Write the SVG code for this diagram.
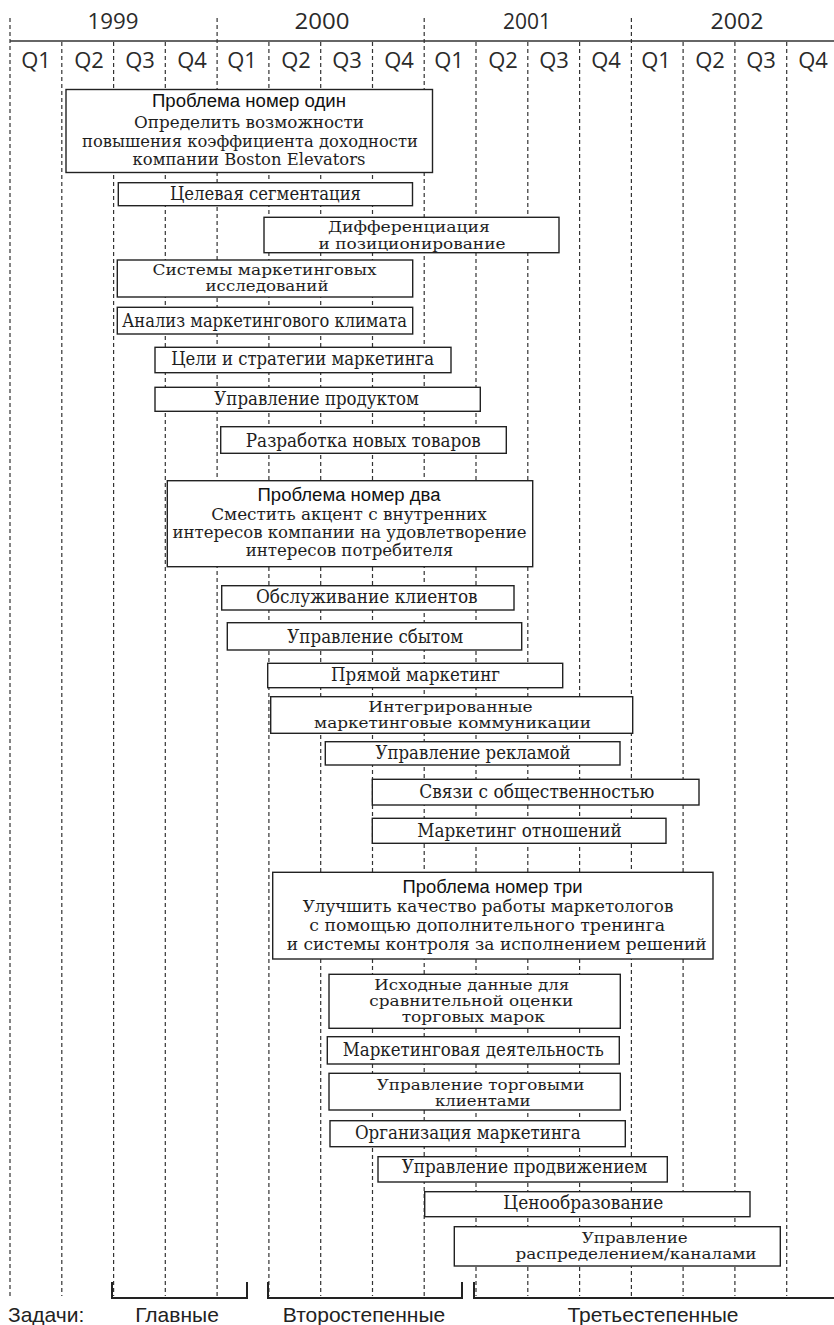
<svg xmlns="http://www.w3.org/2000/svg" width="834" height="1325" viewBox="0 0 834 1325">
<style>
.bg{fill:#fff}
.grid{stroke:#333;stroke-width:1.2;stroke-dasharray:4 3;fill:none}
.axis{stroke:#333;stroke-width:1.5;fill:none}
.hdr{font-family:"Open Sans","DejaVu Sans",sans-serif;font-size:22px;fill:#2a2a2a;text-anchor:middle}
.box{fill:#fff;stroke:#222;stroke-width:1.4}
.t{font-family:"DejaVu Serif","Liberation Serif",serif;font-size:18px;fill:#1e1e1e;text-anchor:middle}
.t2{font-family:"DejaVu Serif","Liberation Serif",serif;font-size:15.5px;fill:#1e1e1e;text-anchor:middle}
.t3{font-family:"DejaVu Serif","Liberation Serif",serif;font-size:17px;fill:#1e1e1e;text-anchor:middle}
.h{font-family:"Liberation Sans",Arial,sans-serif;font-size:18px;fill:#111;text-anchor:middle}
.br{stroke:#222;stroke-width:2;fill:none}
.lbl{font-family:"Liberation Sans",Arial,sans-serif;font-size:21px;fill:#222}
</style>
<rect class="bg" x="0" y="0" width="834" height="1325"/>
<g id="timeline">
<line class="axis" x1="10" y1="41" x2="834" y2="41"/>
<g class="hdr">
<text x="113" y="29" textLength="51" lengthAdjust="spacingAndGlyphs">1999</text>
<text x="322" y="29" textLength="55" lengthAdjust="spacingAndGlyphs">2000</text>
<text x="527" y="29" textLength="48" lengthAdjust="spacingAndGlyphs">2001</text>
<text x="737" y="29" textLength="53" lengthAdjust="spacingAndGlyphs">2002</text>
<text x="36" y="68">Q1</text>
<text x="89" y="68">Q2</text>
<text x="140" y="68">Q3</text>
<text x="192" y="68">Q4</text>
<text x="242" y="68">Q1</text>
<text x="296" y="68">Q2</text>
<text x="347" y="68">Q3</text>
<text x="399" y="68">Q4</text>
<text x="449" y="68">Q1</text>
<text x="503" y="68">Q2</text>
<text x="554" y="68">Q3</text>
<text x="606" y="68">Q4</text>
<text x="656" y="68">Q1</text>
<text x="710" y="68">Q2</text>
<text x="761" y="68">Q3</text>
<text x="813" y="68">Q4</text>
</g>
</g>
<g id="connectors">
<line class="grid" x1="10" y1="18" x2="10" y2="1296"/>
<line class="grid" x1="61.8" y1="42" x2="61.8" y2="1296"/>
<line class="grid" x1="113.6" y1="42" x2="113.6" y2="1296"/>
<line class="grid" x1="165.3" y1="42" x2="165.3" y2="1296"/>
<line class="grid" x1="217.1" y1="18" x2="217.1" y2="1296"/>
<line class="grid" x1="268.9" y1="42" x2="268.9" y2="1296"/>
<line class="grid" x1="320.7" y1="42" x2="320.7" y2="1296"/>
<line class="grid" x1="372.5" y1="42" x2="372.5" y2="1296"/>
<line class="grid" x1="424.2" y1="18" x2="424.2" y2="1296"/>
<line class="grid" x1="476" y1="42" x2="476" y2="1296"/>
<line class="grid" x1="527.8" y1="42" x2="527.8" y2="1296"/>
<line class="grid" x1="579.6" y1="42" x2="579.6" y2="1296"/>
<line class="grid" x1="631.4" y1="18" x2="631.4" y2="1296"/>
<line class="grid" x1="683.1" y1="42" x2="683.1" y2="1296"/>
<line class="grid" x1="734.9" y1="42" x2="734.9" y2="1296"/>
<line class="grid" x1="786.7" y1="42" x2="786.7" y2="1296"/>
</g>
<g id="p1">
<rect class="box" x="66" y="89.5" width="366.5" height="83"/>
<text class="h" x="249" y="106.7" textLength="194" lengthAdjust="spacingAndGlyphs">Проблема номер один</text>
<text class="t3" x="249" y="128.3" textLength="230" lengthAdjust="spacingAndGlyphs">Определить возможности</text>
<text class="t3" x="250" y="146.7" textLength="336" lengthAdjust="spacingAndGlyphs">повышения коэффициента доходности</text>
<text class="t3" x="249" y="165" textLength="233" lengthAdjust="spacingAndGlyphs">компании Boston Elevators</text>
</g>
<g id="n1">
<rect class="box" x="118.3" y="182.7" width="294.2" height="23"/>
<text class="t" x="265.5" y="200" textLength="191" lengthAdjust="spacingAndGlyphs">Целевая сегментация</text>
</g>
<g id="n2">
<rect class="box" x="264" y="217.3" width="295" height="35.4"/>
<text class="t2" x="409" y="232.3" textLength="162" lengthAdjust="spacingAndGlyphs">Дифференциация</text>
<text class="t2" x="412" y="248.6" textLength="187" lengthAdjust="spacingAndGlyphs">и позиционирование</text>
</g>
<g id="n3">
<rect class="box" x="117.3" y="260" width="295.4" height="37"/>
<text class="t2" x="264.5" y="275" textLength="224" lengthAdjust="spacingAndGlyphs">Системы маркетинговых</text>
<text class="t2" x="267" y="291.3" textLength="123" lengthAdjust="spacingAndGlyphs">исследований</text>
</g>
<g id="n4">
<rect class="box" x="117.3" y="307.3" width="295.4" height="26.7"/>
<text class="t" x="264.5" y="326.5" textLength="285" lengthAdjust="spacingAndGlyphs">Анализ маркетингового климата</text>
</g>
<g id="n5">
<rect class="box" x="155" y="347.3" width="296" height="25.4"/>
<text class="t" x="302.7" y="365" textLength="263" lengthAdjust="spacingAndGlyphs">Цели и стратегии маркетинга</text>
</g>
<g id="n6">
<rect class="box" x="155" y="387.3" width="325.3" height="24"/>
<text class="t" x="316.7" y="405" textLength="204.7" lengthAdjust="spacingAndGlyphs">Управление продуктом</text>
</g>
<g id="n7">
<rect class="box" x="220.7" y="426.7" width="285.6" height="26.6"/>
<text class="t" x="363.3" y="446.5" textLength="235" lengthAdjust="spacingAndGlyphs">Разработка новых товаров</text>
</g>
<g id="p2">
<rect class="box" x="167.3" y="480.7" width="365.4" height="86"/>
<text class="h" x="349" y="501" textLength="183" lengthAdjust="spacingAndGlyphs">Проблема номер два</text>
<text class="t3" x="349" y="520" textLength="275.7" lengthAdjust="spacingAndGlyphs">Сместить акцент с внутренних</text>
<text class="t3" x="349.5" y="537.8" textLength="354" lengthAdjust="spacingAndGlyphs">интересов компании на удовлетворение</text>
<text class="t3" x="349.5" y="555.6" textLength="207.7" lengthAdjust="spacingAndGlyphs">интересов потребителя</text>
</g>
<g id="n8">
<rect class="box" x="221.7" y="585.7" width="292.3" height="24.3"/>
<text class="t" x="366.8" y="603.3" textLength="221.7" lengthAdjust="spacingAndGlyphs">Обслуживание клиентов</text>
</g>
<g id="n9">
<rect class="box" x="227.3" y="622.7" width="294.4" height="27.3"/>
<text class="t" x="375.3" y="642.5" textLength="176" lengthAdjust="spacingAndGlyphs">Управление сбытом</text>
</g>
<g id="n10">
<rect class="box" x="267.7" y="663.3" width="295" height="24.4"/>
<text class="t" x="415.5" y="681" textLength="169" lengthAdjust="spacingAndGlyphs">Прямой маркетинг</text>
</g>
<g id="n11">
<rect class="box" x="270.7" y="696.7" width="362" height="36.6"/>
<text class="t2" x="450.5" y="711.5" textLength="164.3" lengthAdjust="spacingAndGlyphs">Интегрированные</text>
<text class="t2" x="452.5" y="727.8" textLength="277" lengthAdjust="spacingAndGlyphs">маркетинговые коммуникации</text>
</g>
<g id="n12">
<rect class="box" x="325.3" y="741.7" width="294.7" height="23.3"/>
<text class="t" x="473" y="758.7" textLength="195" lengthAdjust="spacingAndGlyphs">Управление рекламой</text>
</g>
<g id="n13">
<rect class="box" x="372.3" y="779.3" width="326.7" height="25.7"/>
<text class="t" x="536.8" y="798.3" textLength="235" lengthAdjust="spacingAndGlyphs">Связи с общественностью</text>
</g>
<g id="n14">
<rect class="box" x="372.3" y="818.3" width="293.7" height="25"/>
<text class="t" x="519.5" y="836.5" textLength="204.3" lengthAdjust="spacingAndGlyphs">Маркетинг отношений</text>
</g>
<g id="p3">
<rect class="box" x="272.7" y="872.3" width="440.3" height="86.7"/>
<text class="h" x="492.5" y="892.7" textLength="180" lengthAdjust="spacingAndGlyphs">Проблема номер три</text>
<text class="t3" x="488" y="912.3" textLength="370.7" lengthAdjust="spacingAndGlyphs">Улучшить качество работы маркетологов</text>
<text class="t3" x="487.2" y="931" textLength="355.7" lengthAdjust="spacingAndGlyphs">с помощью дополнительного тренинга</text>
<text class="t3" x="496.7" y="949.7" textLength="420" lengthAdjust="spacingAndGlyphs">и системы контроля за исполнением решений</text>
</g>
<g id="n15">
<rect class="box" x="329" y="974.3" width="291.3" height="54"/>
<text class="t2" x="471.8" y="989.6" textLength="195" lengthAdjust="spacingAndGlyphs">Исходные данные для</text>
<text class="t2" x="471.3" y="1005.9" textLength="204" lengthAdjust="spacingAndGlyphs">сравнительной оценки</text>
<text class="t2" x="473.3" y="1022.2" textLength="143.3" lengthAdjust="spacingAndGlyphs">торговых марок</text>
</g>
<g id="n16">
<rect class="box" x="327.3" y="1036.7" width="292" height="27.3"/>
<text class="t" x="473.3" y="1055.5" textLength="261.3" lengthAdjust="spacingAndGlyphs">Маркетинговая деятельность</text>
</g>
<g id="n17">
<rect class="box" x="329" y="1073.3" width="291.3" height="36.7"/>
<text class="t2" x="480.5" y="1089.5" textLength="207.7" lengthAdjust="spacingAndGlyphs">Управление торговыми</text>
<text class="t2" x="482.8" y="1105.8" textLength="95.7" lengthAdjust="spacingAndGlyphs">клиентами</text>
</g>
<g id="n18">
<rect class="box" x="330" y="1120.7" width="295.3" height="26"/>
<text class="t" x="467.8" y="1139" textLength="225.7" lengthAdjust="spacingAndGlyphs">Организация маркетинга</text>
</g>
<g id="n19">
<rect class="box" x="378" y="1156.7" width="289.3" height="25.3"/>
<text class="t" x="524.5" y="1173.3" textLength="245.7" lengthAdjust="spacingAndGlyphs">Управление продвижением</text>
</g>
<g id="n20">
<rect class="box" x="424.7" y="1191.7" width="325.3" height="25"/>
<text class="t" x="583.3" y="1209.3" textLength="160" lengthAdjust="spacingAndGlyphs">Ценообразование</text>
</g>
<g id="n21">
<rect class="box" x="454.3" y="1226.7" width="326" height="39.3"/>
<text class="t2" x="634.7" y="1242.5" textLength="106" lengthAdjust="spacingAndGlyphs">Управление</text>
<text class="t2" x="636" y="1258.8" textLength="241" lengthAdjust="spacingAndGlyphs">распределением/каналами</text>
</g>
<g id="legend">
<path class="br" d="M112,1282 V1298 H247 V1282"/>
<path class="br" d="M268,1282 V1298 H462 V1282"/>
<path class="br" d="M474,1282 V1298 H834"/>
<text class="lbl" x="8" y="1322">Задачи:</text>
<text class="lbl" x="177" y="1322" text-anchor="middle">Главные</text>
<text class="lbl" x="364" y="1322" text-anchor="middle">Второстепенные</text>
<text class="lbl" x="653" y="1322" text-anchor="middle">Третьестепенные</text>
</g>
</svg>
